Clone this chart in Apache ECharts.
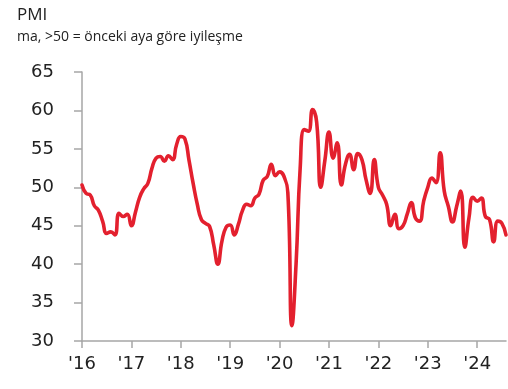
<!DOCTYPE html>
<html>
<head>
<meta charset="utf-8">
<script src="https://cdn.jsdelivr.net/npm/echarts@6/dist/echarts.min.js"></script>
<style>
  html, body { margin: 0; padding: 0; background: #fff; }
  #chart { width: 508px; height: 389px; }
</style>
</head>
<body>
<div id="chart"></div>
<script>
// Monthly PMI readings, Jan 2016 – Aug 2024
const startYear = 2016;
const pmiValues = [
  // 2016
  50.3, 49.2, 49.0, 47.6, 47.0, 45.6, 44.0, 44.2, 43.8, 46.6, 46.2, 46.5,
  // 2017
  45.0, 46.8, 48.7, 49.8, 50.5, 52.5, 53.8, 54.0, 53.4, 54.1, 53.6, 55.6,
  // 2018
  56.6, 56.3, 53.5, 50.5, 47.8, 45.8, 45.3, 44.9, 42.5, 40.0, 43.0, 44.8,
  // 2019
  45.1, 43.8, 45.2, 47.0, 47.8, 47.6, 48.6, 49.1, 50.9, 51.4, 53.0, 51.5,
  // 2020
  52.0, 51.5, 49.3, 32.0, 40.0, 52.5, 57.5, 57.3, 60.1, 58.5, 50.0, 53.5,
  // 2021
  57.2, 53.8, 55.8, 50.3, 53.0, 54.3, 52.3, 54.4, 53.6, 51.0, 49.2, 53.6,
  // 2022
  50.0, 49.0, 47.8, 45.0, 46.5, 44.6, 45.0, 46.5, 48.0, 46.0, 45.6, 48.2,
  // 2023
  50.0, 51.2, 50.6, 54.5, 49.5, 47.5, 45.5, 47.5, 49.5, 42.2, 46.0, 48.7,
  // 2024
  48.2, 48.6, 46.2, 45.8, 42.9, 45.6, 45.3, 43.8
];

// Month categories ("2016-01" …) and the year labels shown under January
const months = pmiValues.map((_, i) => {
  const y = startYear + Math.floor(i / 12);
  const m = (i % 12) + 1;
  return y + '-' + String(m).padStart(2, '0');
});
const yearLabels = ["'16", "'17", "'18", "'19", "'20", "'21", "'22", "'23", "'24"];
const yTicks = [30, 35, 40, 45, 50, 55, 60, 65];

const axisGrey = '#a6a6a6';
const textDark = '#222';

const chart = echarts.init(document.getElementById('chart'), null, { renderer: 'canvas' });

chart.setOption({
  animation: false,
  backgroundColor: '#fff',
  title: [
    {
      text: 'PMI',
      left: 12, top: 2,
      textStyle: { fontFamily: 'Open Sans', fontSize: 17, fontWeight: 'normal', color: textDark }
    },
    {
      text: 'ma, >50 = önceki aya göre iyileşme',
      left: 12, top: 25,
      textStyle: { fontFamily: 'Open Sans', fontSize: 14, fontWeight: 'normal', color: textDark }
    }
  ],
  grid: { left: 82, right: 2, top: 72, bottom: 48, containLabel: false },
  xAxis: {
    type: 'category',
    data: months,
    boundaryGap: false,
    axisLine: { lineStyle: { color: axisGrey, width: 1.5 } },
    axisTick: {
      length: 7,
      interval: (idx) => idx % 12 === 0,
      lineStyle: { color: axisGrey, width: 1.5 }
    },
    axisLabel: {
      interval: (idx) => idx % 12 === 0,
      margin: 14,
      fontFamily: 'DejaVu Sans',
      fontSize: 18,
      color: textDark,
      formatter: (val, idx) => yearLabels[Math.floor(idx / 12)]
    },
    splitLine: { show: false }
  },
  yAxis: {
    type: 'value',
    min: yTicks[0],
    max: yTicks[yTicks.length - 1],
    interval: 5,
    axisLine: { show: true, lineStyle: { color: axisGrey, width: 1.5 } },
    axisTick: { show: true, length: 8, lineStyle: { color: axisGrey, width: 1.5 } },
    axisLabel: {
      margin: 28,
      fontFamily: 'DejaVu Sans',
      fontSize: 18,
      color: textDark
    },
    splitLine: { show: false }
  },
  series: [{
    type: 'line',
    data: pmiValues,
    smooth: 0.5,
    showSymbol: false,
    lineStyle: { color: '#e3202e', width: 3.6, cap: 'round', join: 'round' }
  }]
});
</script>
</body>
</html>
